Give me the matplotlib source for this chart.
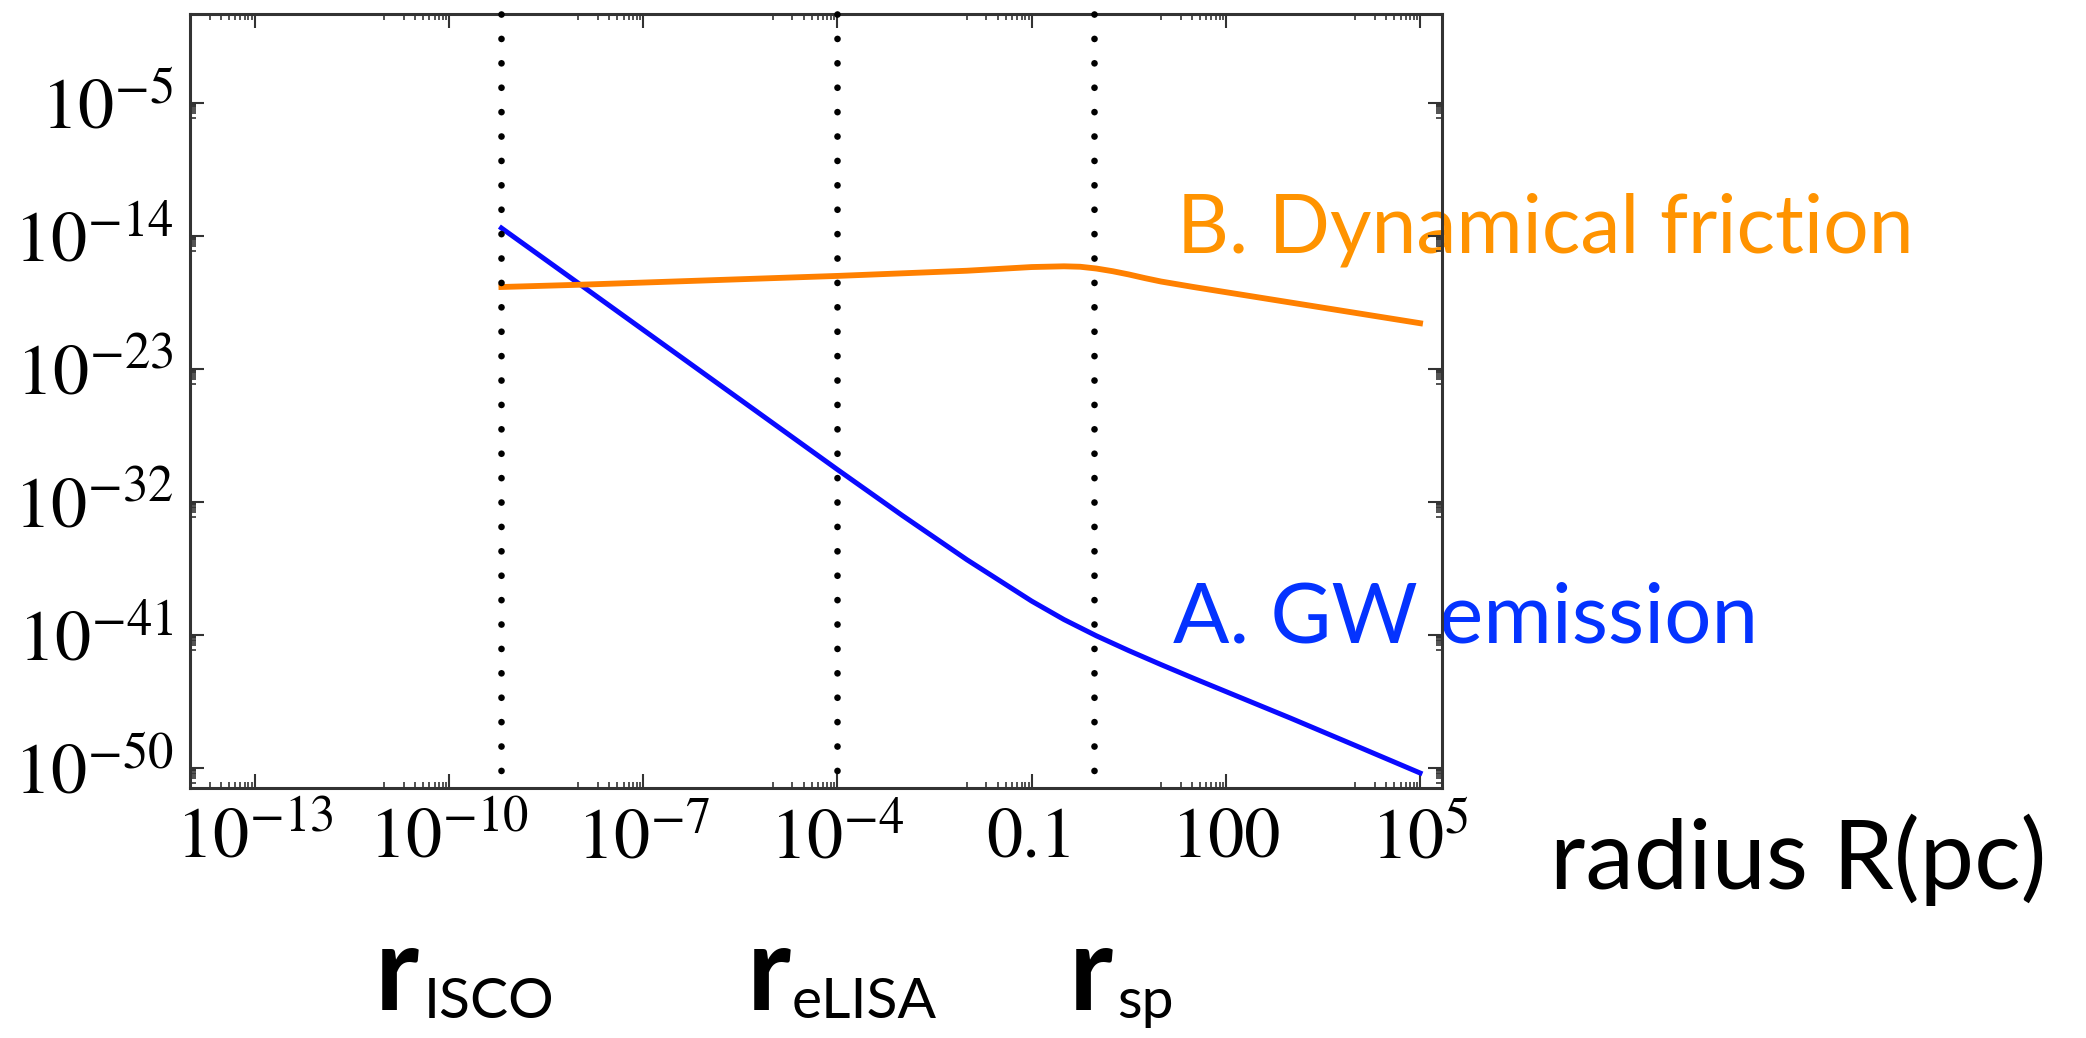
import numpy as np
import matplotlib.pyplot as plt

plt.rcParams['mathtext.fontset'] = 'stix'

# curves (log10 values)
gw_logr = [-9.19, -8, -7, -6, -5, -4, -3, -2, -1, -0.5, 0, 0.5, 1, 1.5, 2, 3, 4, 5]
gw_logt = [-13.46, -17.2, -20.35, -23.5, -26.65, -29.8, -32.9, -35.9, -38.7,
           -39.95, -41.05, -42.05, -43.0, -43.92, -44.82, -46.62, -48.47, -50.33]

df_logr = [-9.19, -8, -6, -4, -2, -1, -0.5, -0.25, 0, 0.25, 0.5, 0.75, 1, 1.5, 2, 3, 4, 5]
df_logt = [-17.45, -17.3, -17.0, -16.7, -16.35, -16.1, -16.05, -16.08, -16.2,
           -16.38, -16.6, -16.85, -17.08, -17.45, -17.8, -18.5, -19.2, -19.9]

# special radii (dotted lines)
mark_names = ["ISCO", "eLISA", "sp"]
mark_logr = [-9.19, -4.0, -0.04]

x_major = [1e-13, 1e-10, 1e-7, 1e-4, 0.1, 100, 1e5]
x_labels = [r"$10^{-13}$", r"$10^{-10}$", r"$10^{-7}$", r"$10^{-4}$", "0.1", "100", r"$10^{5}$"]
y_major = [1e-50, 1e-41, 1e-32, 1e-23, 1e-14, 1e-5]
y_labels = [r"$10^{-50}$", r"$10^{-41}$", r"$10^{-32}$", r"$10^{-23}$", r"$10^{-14}$", r"$10^{-5}$"]

gw_r = 10.0 ** np.array(gw_logr)
gw_t = 10.0 ** np.array(gw_logt)
df_r = 10.0 ** np.array(df_logr)
df_t = 10.0 ** np.array(df_logt)

fig = plt.figure(figsize=(20.86, 10.38), dpi=100)
ax = fig.add_axes([0.0911, 0.2408, 0.6002, 0.7457])
ax.set_xscale('log')
ax.set_yscale('log')
ax.set_xlim(10 ** -13.36, 10 ** 5.34)
ax.set_ylim(10 ** -51.35, 10 ** 1.02)

ax.plot(gw_r, gw_t, color='#0a0aff', lw=3.6, zorder=3)
ax.plot(df_r, df_t, color='#ff8000', lw=4.2, zorder=3)

for lr in mark_logr:
    ax.axvline(10 ** lr, ymin=1, ymax=0, color='black', lw=4.8,
               linestyle=(0, (0.01, 3.65)), dash_capstyle='round',
               clip_on=False, zorder=6)

# ticks, mathematica style
x_minor = [k * m / 10 for m in x_major for k in range(1, 10)]
y_minor = [k * m / 10 for m in y_major for k in range(1, 10)]
ax.set_xticks(x_major)
ax.set_xticklabels(x_labels, fontfamily='STIXGeneral', fontsize=52)
ax.set_xticks(x_minor, minor=True)
ax.set_xticklabels([], minor=True)
ax.set_yticks(y_major)
ax.set_yticklabels(y_labels, fontfamily='STIXGeneral', fontsize=52)
ax.set_yticks(y_minor, minor=True)
ax.set_yticklabels([], minor=True)
ax.tick_params(which='both', direction='in', top=True, right=True, color='#333333')
ax.tick_params(which='major', length=10, width=1.5)
ax.tick_params(which='minor', length=4, width=1.2)
ax.tick_params(axis='x', which='major', pad=14)
ax.tick_params(axis='y', which='major', pad=12)
for sp in ax.spines.values():
    sp.set_linewidth(2.2)
    sp.set_color('#333333')

# text labels (drawn under the frame like the original)
tf = fig.transFigure
ax.text(0.5642, 0.7572, "B. Dynamical friction", transform=tf, color='#ff9300',
        fontfamily='Lato', fontsize=58, ha='left', va='baseline', clip_on=False, zorder=1)
ax.text(0.5623, 0.3815, "A. GW emission", transform=tf, color='#0433ff',
        fontfamily='Lato', fontsize=60, ha='left', va='baseline', clip_on=False, zorder=1)
fig.text(0.7431, 0.1435, "radius R(pc)", color='black', fontfamily='Lato', fontsize=70,
         ha='left', va='baseline')

r_left = [0.1795, 0.3580, 0.5125]
sub_left = [0.2033, 0.3797, 0.5355]
for name, xl, xs in zip(mark_names, r_left, sub_left):
    fig.text(xl, 0.027, "r", color='black', fontfamily='Lato', fontweight='bold',
             fontsize=85, ha='left', va='baseline')
    fig.text(xs, 0.0193, name, color='black', fontfamily='Lato', fontsize=41,
             ha='left', va='baseline')

fig.savefig('out.png', dpi=100)
